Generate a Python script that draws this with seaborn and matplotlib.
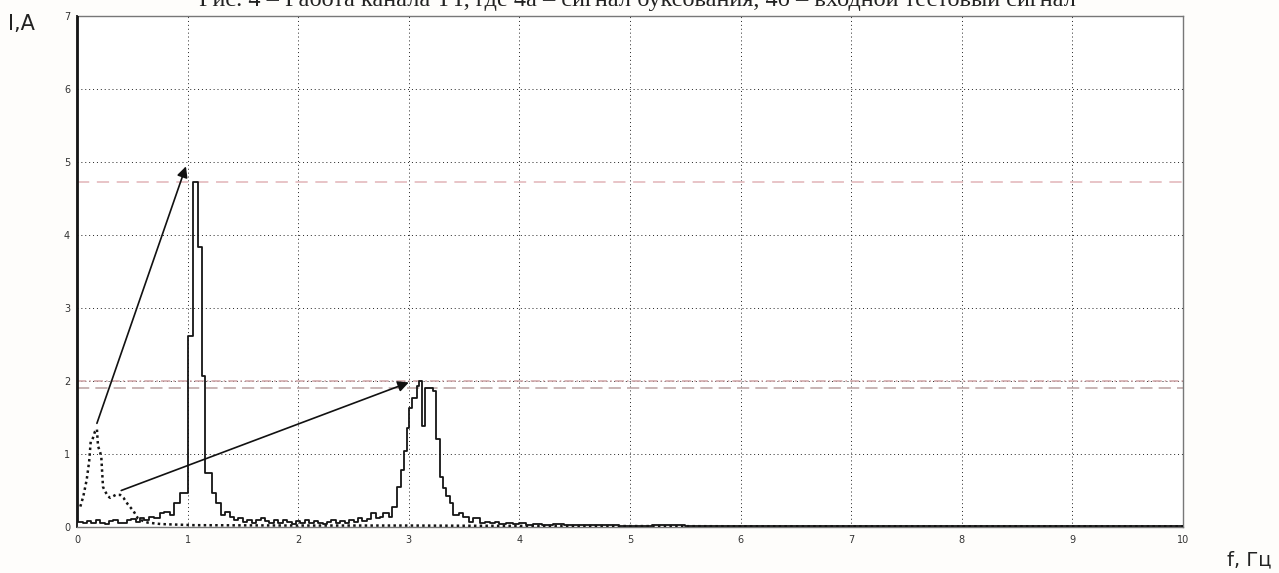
import pandas as pd
import matplotlib
matplotlib.use('Agg')
import matplotlib.pyplot as plt
import seaborn as sns

#spectrum (left edge of each step, amplitude in A)
solid_freq = [0.00, 0.01, 0.05, 0.09, 0.13, 0.17, 0.21, 0.25, 0.29, 0.33, 0.37, 0.41,
              0.45, 0.49, 0.53, 0.57, 0.61, 0.65, 0.70, 0.75, 0.79, 0.84, 0.88, 0.93,
              1.00, 1.05, 1.09, 1.13, 1.16, 1.22, 1.26, 1.30, 1.34, 1.38, 1.42, 1.46,
              1.50, 1.54, 1.58, 1.62, 1.66, 1.70, 1.74, 1.78, 1.82, 1.86, 1.90, 1.94,
              1.98, 2.02, 2.06, 2.10, 2.14, 2.18, 2.22, 2.26, 2.30, 2.34, 2.38, 2.42,
              2.46, 2.50, 2.54, 2.58, 2.62, 2.66, 2.70, 2.74, 2.77, 2.82, 2.85, 2.89,
              2.93, 2.96, 2.98, 3.00, 3.03, 3.07, 3.09, 3.12, 3.15, 3.22, 3.25, 3.28,
              3.31, 3.34, 3.37, 3.40, 3.45, 3.49, 3.54, 3.58, 3.64, 3.69, 3.73, 3.78,
              3.82, 3.88, 3.94, 4.00, 4.06, 4.12, 4.20, 4.30, 4.40, 4.55, 4.70, 4.90,
              5.20, 5.50, 6.00, 6.50, 7.00, 8.00, 9.00, 10.00]
solid_amp = [7.00, 0.07, 0.05, 0.08, 0.05, 0.09, 0.06, 0.04, 0.08, 0.10, 0.06, 0.05,
             0.09, 0.11, 0.07, 0.12, 0.09, 0.14, 0.12, 0.19, 0.21, 0.17, 0.33, 0.46,
             2.61, 4.72, 3.84, 2.07, 0.74, 0.46, 0.33, 0.17, 0.20, 0.14, 0.09, 0.12,
             0.07, 0.10, 0.06, 0.09, 0.12, 0.08, 0.05, 0.09, 0.06, 0.10, 0.07, 0.04,
             0.08, 0.06, 0.09, 0.05, 0.08, 0.06, 0.04, 0.07, 0.09, 0.05, 0.08, 0.06,
             0.10, 0.07, 0.12, 0.08, 0.11, 0.19, 0.13, 0.14, 0.19, 0.14, 0.28, 0.55,
             0.78, 1.04, 1.36, 1.63, 1.77, 1.93, 2.00, 1.38, 1.91, 1.86, 1.20, 0.69,
             0.53, 0.42, 0.33, 0.17, 0.19, 0.14, 0.07, 0.12, 0.05, 0.07, 0.05, 0.07,
             0.04, 0.06, 0.04, 0.05, 0.03, 0.04, 0.03, 0.04, 0.03, 0.025, 0.03, 0.02,
             0.025, 0.02, 0.015, 0.02, 0.015, 0.015, 0.01, 0.01]

#dotted (slip) signal
dotted_freq = [0.03, 0.057, 0.088, 0.11, 0.124, 0.14, 0.163, 0.18, 0.19, 0.21, 0.22,
               0.235, 0.25, 0.28, 0.30, 0.35, 0.39, 0.42, 0.46, 0.51, 0.55, 0.60,
               0.64, 0.76, 1.06, 2.0, 3.0, 4.0, 6.0, 8.0, 10.0]
dotted_amp = [0.28, 0.42, 0.65, 0.90, 1.17, 1.20, 1.31, 1.34, 1.11, 1.02, 0.95,
              0.55, 0.50, 0.42, 0.40, 0.44, 0.44, 0.40, 0.31, 0.22, 0.12, 0.08,
              0.06, 0.04, 0.025, 0.02, 0.02, 0.015, 0.01, 0.01, 0.01]

#reference levels (dashed pink lines)
ref_levels = [4.72, 2.00, 1.90]
ref_styles = [(0, (8, 5)), (0, (6, 2, 1, 2)), (0, (8, 4))]
ref_colors = ['#e2b4b8', '#cfa3a6', '#b9a0a0']

#arrows from the slip signal to the test signal peaks
arrow_starts = [(0.18, 1.42), (0.40, 0.50)]
arrow_ends = [(0.985, 4.94), (3.0, 1.98)]

title = 'Рис. 4 – Работа канала ТТ, где 4а – сигнал буксования, 4б – входной тестовый сигнал'

sns.set_style('white')
plt.rcParams['font.family'] = ['DejaVu Sans']

fig = plt.figure(figsize=(12.79, 5.73), dpi=100, facecolor='#fefdfb')
ax = fig.add_axes([77 / 1279, 1 - 527 / 573, (1183 - 77) / 1279, (527 - 16) / 573])
ax.set_facecolor('white')

solid_df = pd.DataFrame({'f': solid_freq, 'I': solid_amp})
dotted_df = pd.DataFrame({'f': dotted_freq, 'I': dotted_amp})

for lvl, ls, c in zip(ref_levels, ref_styles, ref_colors):
    ax.axhline(lvl, color=c, linestyle=ls, lw=1.1, zorder=1)

sns.lineplot(data=solid_df, x='f', y='I', drawstyle='steps-post', estimator=None,
             sort=False, color='#151515', lw=1.3, ax=ax, zorder=3)
sns.lineplot(data=dotted_df, x='f', y='I', estimator=None, sort=False,
             color='#151515', lw=1.8, linestyle=(0, (1, 1.3)), ax=ax, zorder=3)

for s, e in zip(arrow_starts, arrow_ends):
    ax.annotate('', xy=e, xytext=s,
                arrowprops=dict(arrowstyle='-|>', color='#111', lw=1.2,
                                mutation_scale=16, shrinkA=0, shrinkB=0))

ax.set_xlim(0, 10)
ax.set_ylim(0, 7)
ax.set_xticks(range(0, 11))
ax.set_yticks(range(0, 8))
ax.grid(True, color='#222', linestyle=(0, (1, 3)), lw=0.7)
ax.tick_params(labelsize=7, length=0, colors='#333')
ax.tick_params(axis='y', pad=5)
ax.tick_params(axis='x', pad=6)
ax.set_xlabel('')
ax.set_ylabel('')
for side in ['top', 'right', 'bottom']:
    ax.spines[side].set_color('#777')
    ax.spines[side].set_linewidth(1.0)
ax.spines['left'].set_color('#222')
ax.spines['left'].set_linewidth(1.4)

fig.text(8 / 1279, 1 - 24 / 573, 'I,A', fontsize=15, va='center', ha='left', color='#222')
fig.text(1227 / 1279, 1 - 560 / 573, 'f, Гц', fontsize=14, va='center', ha='left', color='#222')
#caption above the chart, cut at the top edge as in the scan
fig.text(637 / 1279, 1.0, title, fontsize=17.5, va='center', ha='center',
         family=['Liberation Serif', 'DejaVu Serif'], color='#222')

plt.savefig('out.png', dpi=100, facecolor=fig.get_facecolor())
